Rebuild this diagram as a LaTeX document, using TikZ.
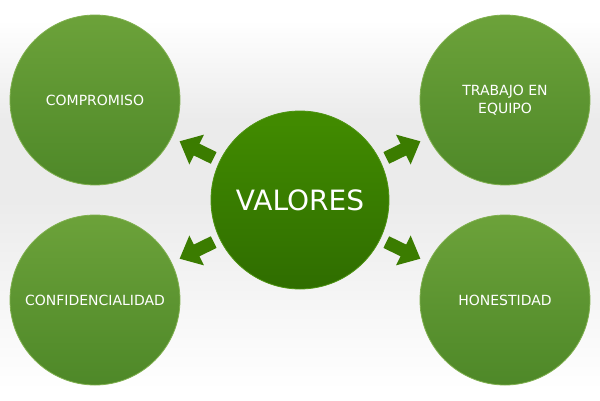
\documentclass[tikz,border=0pt]{standalone}
\usepackage{fontspec}
\setmainfont{DejaVu Sans}
\usetikzlibrary{arrows.meta,calc}
\definecolor{bggray}{HTML}{EBEBEB}
\definecolor{outtop}{HTML}{6CA23A}
\definecolor{outbot}{HTML}{4E8828}
\definecolor{outrim}{HTML}{7FB04E}
\definecolor{ctop}{HTML}{428C00}
\definecolor{cbot}{HTML}{2F6D00}
\definecolor{crim}{HTML}{4E9412}
\definecolor{arrowgreen}{HTML}{3B7C00}
\begin{document}
\begin{tikzpicture}[x=1pt,y=-1pt,
  outercircle/.style={circle, minimum size=170pt, inner sep=0pt,
    top color=outtop, bottom color=outbot, draw=outrim, line width=0.8pt,
    text=white, font=\fontsize{14}{18}\selectfont, align=center},
  centercircle/.style={circle, minimum size=178pt, inner sep=0pt,
    top color=ctop, bottom color=cbot, draw=crim, line width=0.8pt,
    text=white, font=\fontsize{28}{32}\selectfont},
  blockarrow/.style={draw=arrowgreen, line width=13pt,
    -{Triangle[length=19pt,width=32pt]}}
]
\useasboundingbox (0,0) rectangle (600,400);
% background
\fill[white] (0,0) rectangle (600,400);
\shade[top color=white, bottom color=bggray] (0,20) rectangle (600,120);
\fill[bggray] (0,119.5) rectangle (600,200);
\shade[top color=bggray, bottom color=white] (0,199.5) rectangle (600,390);
\fill[white] (0,389.5) rectangle (600,400);
% nodes
\node[centercircle] (c) at (300,200) {VALORES};
\node[outercircle] (tl) at (95,100) {COMPROMISO};
\node[outercircle] (tr) at (505,100) {TRABAJO EN\\EQUIPO};
\node[outercircle] (bl) at (95,300) {CONFIDENCIALIDAD};
\node[outercircle] (br) at (505,300) {HONESTIDAD};
% arrows
\foreach \t in {tl,tr,bl,br}{
  \draw[blockarrow] ($(c.center)!96pt!(\t.center)$) -- ($(c.center)!134pt!(\t.center)$);
}
\end{tikzpicture}
\end{document}
